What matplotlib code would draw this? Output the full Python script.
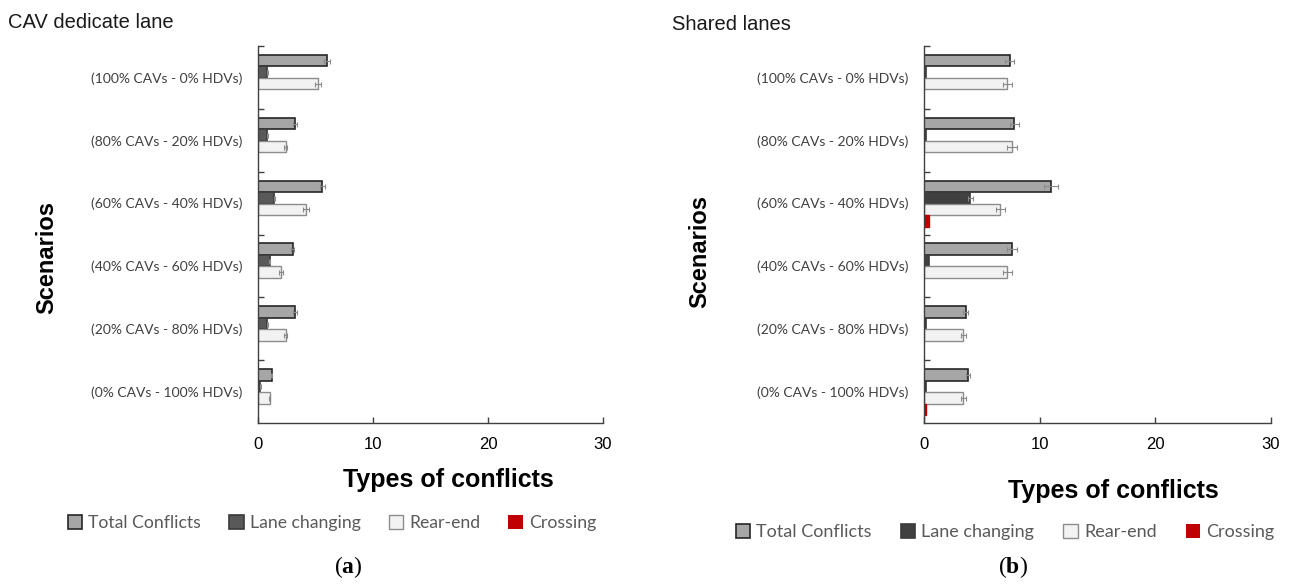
import matplotlib
matplotlib.use("Agg")
import matplotlib.pyplot as plt
import numpy as np

plt.rcParams['font.family'] = ['Liberation Sans', 'DejaVu Sans']
plt.rcParams['mathtext.fontset'] = 'custom'
plt.rcParams['mathtext.rm'] = 'Liberation Serif'
plt.rcParams['mathtext.bf'] = 'Liberation Serif:bold'

# Scenarios, listed top to bottom
scenarios = ["(100% CAVs - 0% HDVs)", "(80% CAVs - 20% HDVs)", "(60% CAVs - 40% HDVs)",
             "(40% CAVs - 60% HDVs)", "(20% CAVs - 80% HDVs)", "(0% CAVs - 100% HDVs)"]
series_names = ["Total Conflicts", "Lane changing", "Rear-end", "Crossing"]

# (a) CAV dedicated lane
ded_total = [6.0, 3.2, 5.6, 3.0, 3.2, 1.2]
ded_lane = [0.8, 0.8, 1.4, 1.0, 0.8, 0.2]
ded_rear = [5.2, 2.4, 4.2, 2.0, 2.4, 1.0]
ded_cross = [0.0, 0.0, 0.0, 0.0, 0.0, 0.0]
ded_total_err = [0.25, 0.15, 0.25, 0.15, 0.15, 0.05]
ded_lane_err = [0.05, 0.05, 0.05, 0.05, 0.05, 0.02]
ded_rear_err = [0.25, 0.15, 0.25, 0.15, 0.15, 0.05]
ded_cross_err = [0.0, 0.0, 0.0, 0.0, 0.0, 0.0]

# (b) Shared lanes
sh_total = [7.4, 7.8, 11.0, 7.6, 3.6, 3.8]
sh_lane = [0.2, 0.2, 4.0, 0.4, 0.2, 0.2]
sh_rear = [7.2, 7.6, 6.6, 7.2, 3.4, 3.4]
sh_cross = [0.0, 0.0, 0.4, 0.0, 0.0, 0.2]
sh_total_err = [0.4, 0.4, 0.6, 0.4, 0.2, 0.2]
sh_lane_err = [0.0, 0.0, 0.2, 0.0, 0.0, 0.0]
sh_rear_err = [0.4, 0.4, 0.4, 0.4, 0.2, 0.2]
sh_cross_err = [0.0, 0.0, 0.0, 0.0, 0.0, 0.0]

x_ticks = [0, 10, 20, 30]

face_colors = ["#a6a6a6", "#555555", "#f2f2f2", "#c00000"]
edge_colors = ["#262626", "#3a3a3a", "#8c8c8c", "#c00000"]

fig = plt.figure(figsize=(12.93, 5.85), dpi=100)

bar_h = 0.183
offsets = np.array([-0.266, -0.083, 0.100, 0.283])


def draw_panel(ax, values, errors, lane_color):
    y = np.arange(len(scenarios))
    handles = []
    for k, (vals, errs) in enumerate(zip(values, errors)):
        fc = face_colors[k] if k != 1 else lane_color
        lw = 1.2 if k < 2 else 1.0
        b = ax.barh(y + offsets[k], vals, height=bar_h, color=fc,
                    edgecolor=edge_colors[k], linewidth=lw,
                    label=series_names[k], zorder=2)
        for patch, v in zip(b.patches, vals):
            if v == 0:
                patch.set_linewidth(0)
        vals_a = np.asarray(vals)
        errs_a = np.asarray(errs)
        keep = errs_a > 0
        if keep.any():
            ax.errorbar(vals_a[keep], (y + offsets[k])[keep], xerr=errs_a[keep],
                        fmt='none', ecolor='#8a8a8a', elinewidth=0.8,
                        capsize=1.8, capthick=0.8, zorder=3)
        handles.append(b)
    ax.set_ylim(5.5, -0.5)
    ax.set_xlim(0, 30)
    ax.set_xticks(x_ticks)
    ax.set_yticks(y)
    ax.set_yticklabels(scenarios, fontsize=10, color='#404040', family='Lato')
    ax.set_yticks(np.arange(-0.5, 5.5, 1.0), minor=True)
    ax.tick_params(axis='y', which='major', length=0, pad=11)
    ax.tick_params(axis='y', which='minor', direction='in', length=4, width=1, color='#404040')
    ax.tick_params(axis='x', direction='in', length=4, width=1, color='#404040',
                   labelsize=12, pad=10)
    for s in ['top', 'right']:
        ax.spines[s].set_visible(False)
    for s in ['left', 'bottom']:
        ax.spines[s].set_color('#404040')
        ax.spines[s].set_linewidth(1.0)
    return handles


ax1 = fig.add_axes([258 / 1293, 1 - 423 / 585, 345 / 1293, 377 / 585])
h1 = draw_panel(ax1, [ded_total, ded_lane, ded_rear, ded_cross],
                [ded_total_err, ded_lane_err, ded_rear_err, ded_cross_err], "#595959")

ax2 = fig.add_axes([924 / 1293, 1 - 423 / 585, 347 / 1293, 377 / 585])
h2 = draw_panel(ax2, [sh_total, sh_lane, sh_rear, sh_cross],
                [sh_total_err, sh_lane_err, sh_rear_err, sh_cross_err], "#404040")

W, H = 1293, 585


def ftext(x, y, s, **kw):
    fig.text(x / W, 1 - y / H, s, **kw)


ftext(8, 22, "CAV dedicate lane", fontsize=14.5, ha='left', va='center', color='#1a1a1a')
ftext(672, 25, "Shared lanes", fontsize=14.5, ha='left', va='center', color='#1a1a1a')

ftext(47, 257, "Scenarios", fontsize=17, fontweight='bold', rotation=90, ha='center', va='center')
ftext(700, 251, "Scenarios", fontsize=17, fontweight='bold', rotation=90, ha='center', va='center')

ftext(448, 480, "Types of conflicts", fontsize=18, fontweight='bold', ha='center', va='center')
ftext(1113, 491, "Types of conflicts", fontsize=18, fontweight='bold', ha='center', va='center')

leg_kw = dict(ncol=4, frameon=False, handlelength=0.8, handleheight=0.8,
              handletextpad=0.35, columnspacing=1.6, loc='center',
              labelcolor='#595959')
fig.legend(h1, series_names, bbox_to_anchor=(332 / W, 1 - 523 / H),
           prop={'family': 'Lato', 'size': 12.7}, **leg_kw)
fig.legend(h2, series_names, bbox_to_anchor=(1005 / W, 1 - 532 / H),
           prop={'family': 'Lato', 'size': 13.0}, **leg_kw)

ftext(348, 567, r"($\mathbf{a}$)", fontsize=17, family='Liberation Serif', ha='center', va='center')
ftext(1013, 567, r"($\mathbf{b}$)", fontsize=17, family='Liberation Serif', ha='center', va='center')

fig.savefig("out.png", dpi=100)
